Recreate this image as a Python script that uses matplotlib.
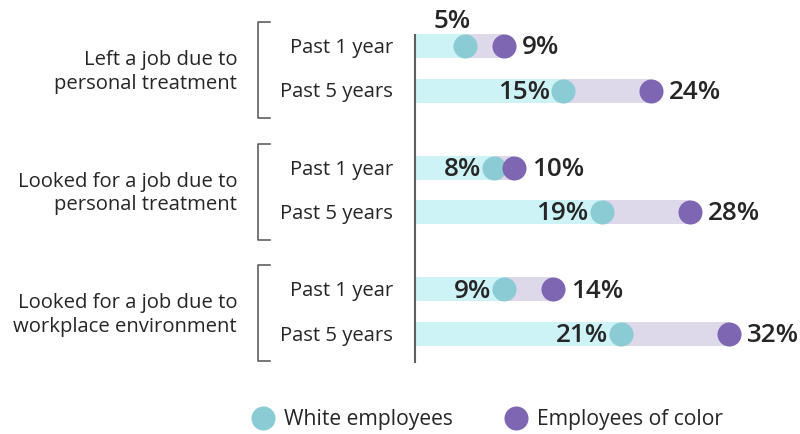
import matplotlib.pyplot as plt

plt.rcParams['font.family'] = ['Open Sans', 'DejaVu Sans']

groups = ['Left a job due to\npersonal treatment',
          'Looked for a job due to\npersonal treatment',
          'Looked for a job due to\nworkplace environment']
periods = ['Past 1 year', 'Past 5 years']
white = [5, 15, 8, 19, 9, 21]
color = [9, 24, 10, 28, 14, 32]
legend_labels = ['White employees', 'Employees of color']

c_teal = '#8acbd4'
c_purple = '#7f66b3'
c_cyan_bar = '#cdf3f7'
c_lav_bar = '#ddd8ea'
c_text = '#262626'
c_line = '#606060'

px = 9.78          # pixels per percent
x0 = 416           # pixel position of 0%
W, H = 800, 434

fig = plt.figure(figsize=(8, 4.34), dpi=100)
ax = fig.add_axes([0, 0, 1, 1])
ax.set_xlim(-x0 / px, (W - x0) / px)
ax.set_ylim(H, 0)
ax.axis('off')

def to_pct(p):
    return (p - x0) / px

ys = []
for g in range(len(groups)):
    for s in range(len(periods)):
        ys.append(46 + g * 121.5 + s * 44.5)

r = 12 / px  # dot radius in percent units
fs_lab = 14.6
fs_val = 18.7
dy = 2  # text baseline nudge

for i, y in enumerate(ys):
    w, c = white[i], color[i]
    ax.barh(y, w, left=0, height=24, color=c_cyan_bar, zorder=1)
    ax.barh(y, c - w, left=w, height=24, color=c_lav_bar, zorder=1)
    ax.scatter([w], [y], s=300, color=c_teal, zorder=3, linewidths=0)
    ax.scatter([c], [y], s=300, color=c_purple, zorder=3, linewidths=0)
    if w < 6:
        ax.text(to_pct(452), y - 27 + dy, f'{w}%', ha='center', va='center',
                fontsize=fs_val, fontweight='semibold', color=c_text)
    else:
        ax.text(w - r - 0.1, y + dy, f'{w}%', ha='right', va='center',
                fontsize=fs_val, fontweight='semibold', color=c_text)
    ax.text(c + r + 0.6, y + dy, f'{c}%', ha='left', va='center',
            fontsize=fs_val, fontweight='semibold', color=c_text)
    ax.text(to_pct(393), y + dy, periods[i % 2], ha='right', va='center',
            fontsize=fs_lab, color=c_text)

# axis line
ax.plot([to_pct(415), to_pct(415)], [35, 362], color=c_line, lw=1.5, zorder=4)

# brackets and group labels
for g, name in enumerate(groups):
    top = 22 + g * 121.5
    bot = top + 96
    bx = to_pct(258)
    ex = to_pct(270)
    ax.plot([ex, bx, bx, ex], [top, top, bot, bot], color=c_line, lw=1.2)
    ax.text(to_pct(237), (top + bot) / 2 + dy, name, ha='right', va='center',
            fontsize=fs_lab, color=c_text, linespacing=1.25)

# legend
for lx, lc, lab in zip([263, 516], [c_teal, c_purple], legend_labels):
    ax.scatter([to_pct(lx)], [418], s=300, color=lc, linewidths=0)
    ax.text(to_pct(lx + 21), 418 + dy, lab, ha='left', va='center',
            fontsize=15.2, color=c_text)

fig.savefig('out.png', dpi=100)
